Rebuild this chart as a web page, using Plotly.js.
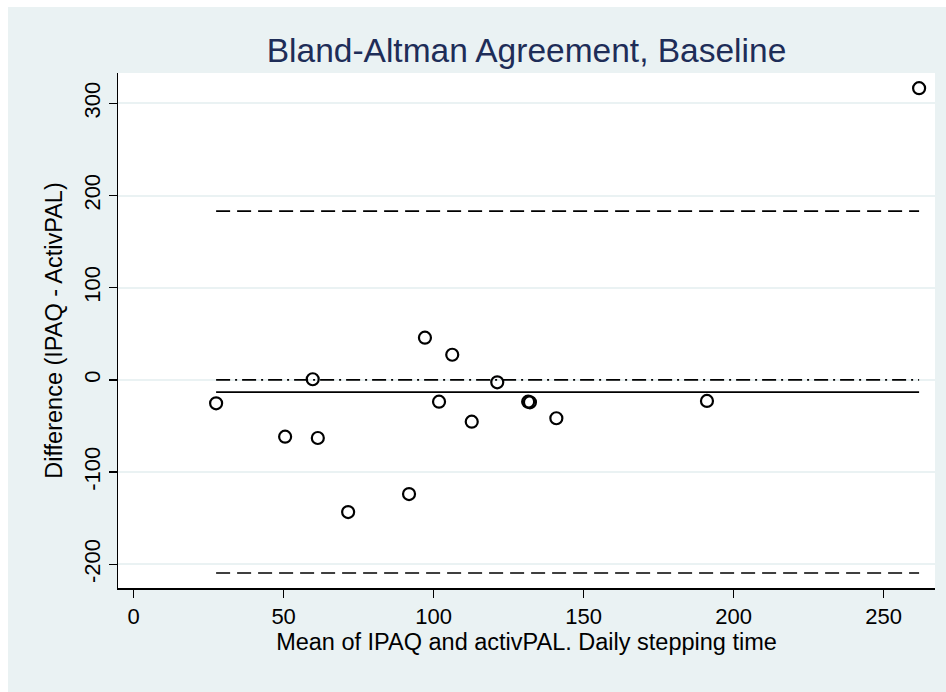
<!DOCTYPE html>
<html>
<head>
<meta charset="utf-8">
<script src="https://cdn.plot.ly/plotly-3.0.1.min.js"></script>
<style>
  html, body { margin: 0; padding: 0; background: #ffffff; }
  #chart { position: absolute; left: 8px; top: 7px; width: 938px; height: 685px; }
</style>
</head>
<body>
<div id="chart"></div>
<script>
// Mean of the two measures (minutes/day) and their difference (IPAQ - activPAL)
const meanSteps = [27.5, 50.5, 59.7, 61.4, 71.5, 91.8, 97.1, 101.8, 106.2, 112.7,
                   121.2, 131.5, 132.1, 140.9, 191.1, 261.8];
const diffSteps = [-25.4, -61.6, 0.7, -63.0, -143.3, -123.8, 45.8, -23.6, 27.3, -45.3,
                   -2.6, -23.6, -24.3, -41.6, -22.8, 316.4];

const xTicks = [0, 50, 100, 150, 200, 250];
const yTicks = [-200, -100, 0, 100, 200, 300];

// Bias and 95% limits of agreement
const n = diffSteps.length;
const bias = diffSteps.reduce((a, b) => a + b, 0) / n;
const sd = Math.sqrt(diffSteps.reduce((a, d) => a + (d - bias) ** 2, 0) / (n - 1));
const upperLoA = bias + 1.96 * sd;
const lowerLoA = bias - 1.96 * sd;

const xMin = Math.min(...meanSteps);
const xMax = Math.max(...meanSteps);
const span = [xMin, xMax];

const FONT = '"Liberation Sans", Arial, Helvetica, sans-serif';

function hline(y, dash, width) {
  return {
    type: 'scatter', mode: 'lines', x: span, y: [y, y],
    line: { color: '#000000', width: width, dash: dash },
    hoverinfo: 'skip', showlegend: false
  };
}

const traces = [
  hline(upperLoA, '14px,7px', 1.6),
  hline(lowerLoA, '14px,7px', 1.6),
  hline(0, '14px,5px,2px,5px', 1.6),
  hline(bias, 'solid', 1.8),
  {
    type: 'scatter', mode: 'markers', x: meanSteps, y: diffSteps,
    marker: { symbol: 'circle-open', size: 12, color: '#000000', line: { width: 2.2, color: '#000000' } },
    showlegend: false
  }
];

const layout = {
  width: 938, height: 685,
  paper_bgcolor: '#eaf2f3',
  plot_bgcolor: '#ffffff',
  margin: { l: 110, r: 11, t: 66, b: 104 },
  font: { family: FONT, size: 22, color: '#000000' },
  title: {
    text: 'Bland-Altman Agreement, Baseline',
    font: { family: FONT, size: 33.5, color: '#1e2d58' },
    x: 0.5, xref: 'paper', y: 0.937, yref: 'container', yanchor: 'middle'
  },
  xaxis: {
    range: [-5.2, 267.1], tickvals: xTicks, ticktext: xTicks.map(String),
    showgrid: false, zeroline: false,
    showline: true, linecolor: '#000000', linewidth: 1.5,
    ticks: 'outside', ticklen: 8, tickwidth: 1.5, tickcolor: '#000000',
    tickfont: { family: FONT, size: 22, color: '#000000' },
    title: { text: 'Mean of IPAQ and activPAL. Daily stepping time', font: { family: FONT, size: 23.5, color: '#000000' }, standoff: 4 }
  },
  yaxis: {
    range: [-225.7, 332.9], tickvals: yTicks, ticktext: yTicks.map(String),
    tickangle: -90,
    showgrid: true, gridcolor: '#eaf2f3', gridwidth: 2, zeroline: false,
    showline: true, linecolor: '#000000', linewidth: 1.5,
    ticks: 'outside', ticklen: 8, tickwidth: 1.5, tickcolor: '#000000',
    tickfont: { family: FONT, size: 22, color: '#000000' },
    title: { text: 'Difference (IPAQ - ActivPAL)', font: { family: FONT, size: 23.5, color: '#000000' }, standoff: 10 }
  },
  hovermode: false
};

Plotly.newPlot('chart', traces, layout, { displayModeBar: false, staticPlot: true });
</script>
</body>
</html>
